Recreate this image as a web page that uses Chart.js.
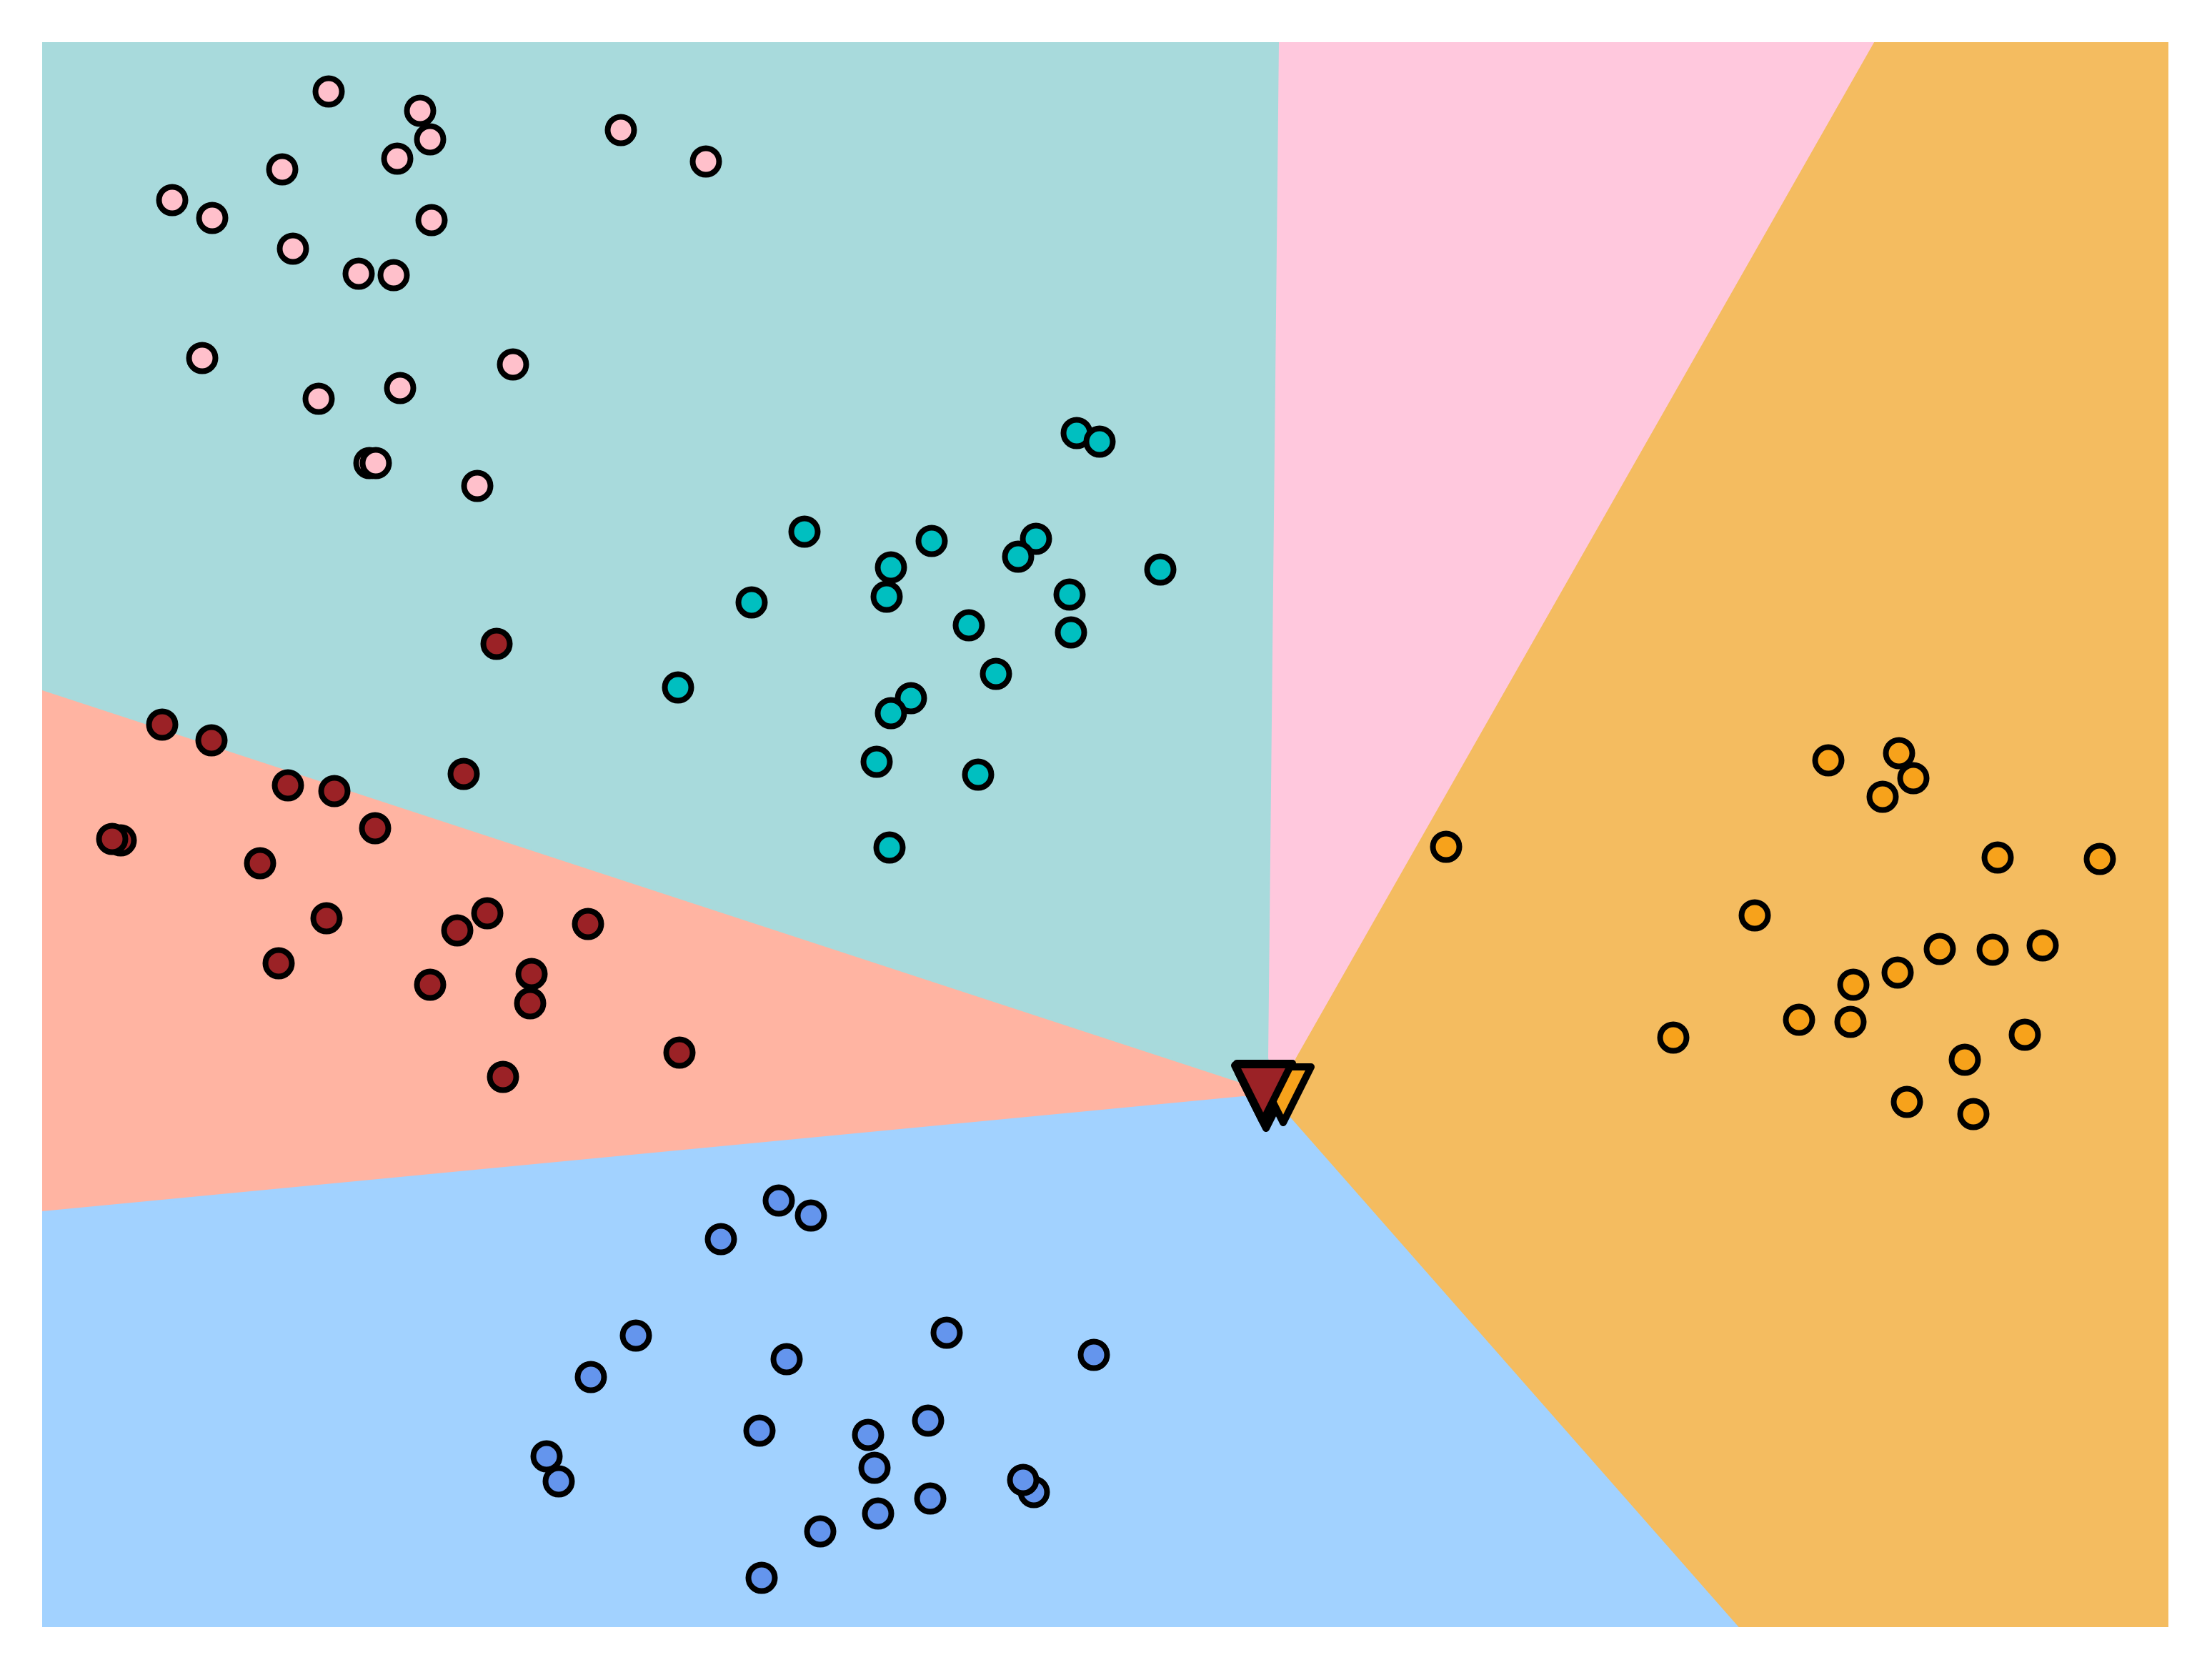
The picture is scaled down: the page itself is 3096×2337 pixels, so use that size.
<!DOCTYPE html>
<html>
<head>
<meta charset="utf-8">
<script src="https://cdn.jsdelivr.net/npm/chart.js@4/dist/chart.umd.min.js"></script>
<style>
  html, body { margin: 0; padding: 0; background: #ffffff; }
  canvas { display: block; }
</style>
</head>
<body>
<canvas id="kmeansChart" width="3096" height="2337"></canvas>
<script>
// clusters (x, y)
const pinkPts = [
    [4.01, 21.49], [5.29, 21.22], [5.43, 20.82], [4.97, 20.55], [8.10, 20.95],
    [9.29, 20.51], [3.36, 20.40], [1.82, 19.97], [2.38, 19.72], [5.45, 19.69],
    [3.51, 19.29], [4.43, 18.94], [4.92, 18.92], [2.24, 17.76], [6.59, 17.67],
    [3.87, 17.19], [5.01, 17.34], [4.58, 16.29], [4.67, 16.29], [6.09, 15.97]
];
const tealPts = [
    [14.48, 16.71], [14.80, 16.59], [10.67, 15.33], [12.45, 15.20], [11.82, 14.42],
    [11.88, 14.83], [13.91, 15.23], [13.66, 14.98], [15.65, 14.80], [9.93, 14.34],
    [14.38, 14.45], [12.97, 14.02], [14.40, 13.92], [8.90, 13.15], [13.35, 13.34],
    [12.16, 13.00], [11.88, 12.79], [11.68, 12.11], [13.10, 11.93], [11.86, 10.91]
];
const redPts = [
    [6.36, 13.76], [1.68, 12.63], [2.37, 12.41], [5.90, 11.94], [3.44, 11.78],
    [4.09, 11.70], [1.10, 11.01], [0.98, 11.03], [4.66, 11.18], [3.05, 10.69],
    [3.98, 9.92], [6.23, 9.99], [5.81, 9.75], [7.64, 9.84], [3.31, 9.29],
    [5.43, 8.99], [6.85, 9.14], [6.83, 8.73], [8.92, 8.04], [6.45, 7.70]
];
const bluePts = [
    [10.31, 5.97], [10.76, 5.76], [9.50, 5.43], [12.66, 4.12], [14.72, 3.81],
    [8.31, 4.08], [7.68, 3.50], [10.42, 3.75], [12.40, 2.89], [10.04, 2.75],
    [11.56, 2.69], [11.65, 2.23], [7.06, 2.39], [7.23, 2.04], [12.43, 1.80],
    [13.88, 1.89], [13.73, 2.06], [11.70, 1.59], [10.89, 1.34], [10.07, 0.69]
];
const orangePts = [
    [25.00, 12.13], [25.99, 12.23], [26.19, 11.88], [25.76, 11.62], [19.65, 10.92],
    [27.37, 10.77], [28.80, 10.75], [23.97, 9.96], [26.56, 9.49], [27.30, 9.48],
    [28.00, 9.54], [25.97, 9.16], [25.35, 8.99], [24.59, 8.50], [25.31, 8.47],
    [22.83, 8.25], [27.75, 8.29], [26.91, 7.94], [26.10, 7.35], [27.03, 7.18]
];

// centroids, drawn in this order: pink, teal, blue, orange, red
const centroids = [[17.11, 7.50], [17.08, 7.47], [17.13, 7.37], [17.37, 7.45], [17.09, 7.48]];

// decision regions (polygon corners)
const tealRegion = [[0, 22.18], [17.30, 22.18], [17.15, 7.97], [17.26, 7.37], [16.74, 7.64], [0, 13.12]];
const pinkRegion = [[17.30, 22.18], [25.63, 22.18], [17.54, 7.97], [17.26, 7.37], [17.15, 7.97]];
const orangeRegion = [[25.63, 22.18], [29.76, 22.18], [29.76, 0], [23.76, 0], [17.48, 7.14], [17.26, 7.37], [17.54, 7.97]];
const blueRegion = [[0, 5.81], [16.81, 7.42], [17.26, 7.37], [17.48, 7.14], [23.76, 0], [0, 0]];
const salmonRegion = [[0, 13.12], [16.74, 7.64], [17.26, 7.37], [16.81, 7.42], [0, 5.81]];

const xMin = 0, xMax = 29.76, yMin = 0, yMax = 22.18;

function toXY(arr) {
    return arr.map(p => ({ x: p[0], y: p[1] }));
}

function region(pts, color) {
    return {
        type: 'line',
        data: toXY(pts),
        backgroundColor: color,
        borderColor: color,
        borderWidth: 2,
        fill: 'shape',
        pointRadius: 0,
        tension: 0,
        order: 10
    };
}

function cluster(pts, color) {
    return {
        type: 'scatter',
        data: toXY(pts),
        backgroundColor: color,
        borderColor: '#000000',
        borderWidth: 8,
        pointRadius: 18.5,
        pointHoverRadius: 18.5,
        order: 5
    };
}

// downward triangle marker like matplotlib 'v'
function triangleMarker(color) {
    const c = document.createElement('canvas');
    c.width = 120;
    c.height = 120;
    const g = c.getContext('2d');
    const a = 39;
    g.beginPath();
    g.moveTo(60 - a, 60 - a);
    g.lineTo(60 + a, 60 - a);
    g.lineTo(60, 60 + a);
    g.closePath();
    g.fillStyle = color;
    g.fill();
    g.lineJoin = 'round';
    g.lineWidth = 10;
    g.strokeStyle = '#000000';
    g.stroke();
    return c;
}

const centroidColors = ['#ffc0cb', '#00bfc0', '#6495ed', '#f7a21b', '#9b2226'];

new Chart(document.getElementById('kmeansChart'), {
    type: 'scatter',
    data: {
        datasets: [
            region(tealRegion, '#a8dadc'),
            region(pinkRegion, '#ffc8dd'),
            region(orangeRegion, '#f4bc60'),
            region(blueRegion, '#a2d2ff'),
            region(salmonRegion, '#ffb4a2'),
            cluster(pinkPts, '#ffc0cb'),
            cluster(tealPts, '#00bfc0'),
            cluster(redPts, '#9b2226'),
            cluster(bluePts, '#6495ed'),
            cluster(orangePts, '#f7a21b'),
            {
                type: 'scatter',
                data: toXY(centroids),
                pointStyle: centroidColors.map(triangleMarker),
                pointRadius: 40,
                pointHoverRadius: 40,
                order: 1
            }
        ]
    },
    options: {
        responsive: false,
        animation: false,
        events: [],
        layout: {
            padding: { left: 59, right: 61, top: 59, bottom: 60 }
        },
        plugins: {
            legend: { display: false },
            tooltip: { enabled: false }
        },
        scales: {
            x: { type: 'linear', min: xMin, max: xMax, display: false },
            y: { type: 'linear', min: yMin, max: yMax, display: false }
        }
    }
});
</script>
</body>
</html>
